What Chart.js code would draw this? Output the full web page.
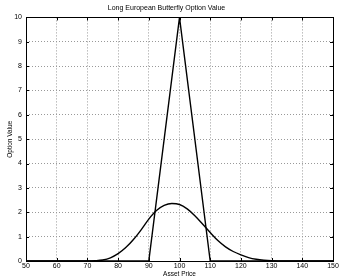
<!DOCTYPE html>
<html>
<head>
<meta charset="utf-8">
<script src="https://cdn.jsdelivr.net/npm/chart.js@4"></script>
<style>
  html, body { margin: 0; padding: 0; background: #fff; }
  #wrap { width: 340px; height: 278px; }
</style>
</head>
<body>
<div id="wrap"><canvas id="myChart" width="340" height="278"></canvas></div>
<script>
const priceGrid = [50, 55, 60, 65, 70, 72.5, 75, 77.5, 80, 82.5, 85, 87.5, 90, 92.5, 95, 97.5,
    100, 102.5, 105, 107.5, 110, 112.5, 115, 117.5, 120, 122.5, 125, 127.5, 130, 135, 140, 145, 150];
const optionValue = [0, 0, 0, 0, 0, 0.01, 0.04, 0.13, 0.3, 0.55, 0.88, 1.28, 1.72, 2.07, 2.28, 2.36,
    2.32, 2.14, 1.86, 1.52, 1.17, 0.84, 0.58, 0.39, 0.25, 0.14, 0.07, 0.03, 0.01, 0, 0, 0, 0];

// payoff at expiry
const payoffPrice = [50, 90, 100, 110, 150];
const payoffValue = [0, 0, 10, 0, 0];

const xTicks = [50, 60, 70, 80, 90, 100, 110, 120, 130, 140, 150];
const yTicks = [0, 1, 2, 3, 4, 5, 6, 7, 8, 9, 10];

const fontName = "'Liberation Sans', Arial, sans-serif";

let ctx = document.getElementById('myChart');

function toPoints(xs, ys) {
    return xs.map((x, i) => ({ x: x, y: ys[i] }));
}

// matlab style box with small inward ticks
const boxPlugin = {
    id: 'boxPlugin',
    afterDraw(chart) {
        const c = chart.ctx;
        const a = chart.chartArea;
        const xs = chart.scales.x;
        const ys = chart.scales.y;
        c.save();
        c.strokeStyle = '#000';
        c.lineWidth = 1;
        c.beginPath();
        xTicks.forEach(v => {
            const px = Math.round(xs.getPixelForValue(v)) + 0.5;
            c.moveTo(px, a.bottom); c.lineTo(px, a.bottom - 3);
            c.moveTo(px, a.top); c.lineTo(px, a.top + 3);
        });
        yTicks.forEach(v => {
            const py = Math.round(ys.getPixelForValue(v)) + 0.5;
            c.moveTo(a.left, py); c.lineTo(a.left + 3, py);
            c.moveTo(a.right, py); c.lineTo(a.right - 3, py);
        });
        c.stroke();
        c.strokeRect(Math.round(a.left) + 0.5, Math.round(a.top) + 0.5,
            Math.round(a.right - a.left), Math.round(a.bottom - a.top));
        c.restore();
    }
};

makeChart();

function makeChart() {
    const myChart = new Chart(ctx, {
        type: 'line',
        data: {
            datasets: [
                {
                    label: 'Payoff',
                    data: toPoints(payoffPrice, payoffValue),
                    borderColor: '#000',
                    borderWidth: 1.4,
                    pointRadius: 0,
                    tension: 0,
                    fill: false
                },
                {
                    label: 'Option Value',
                    data: toPoints(priceGrid, optionValue),
                    borderColor: '#000',
                    borderWidth: 1.4,
                    pointRadius: 0,
                    cubicInterpolationMode: 'monotone',
                    fill: false
                }
            ]
        },
        options: {
            responsive: false,
            animation: false,
            layout: { padding: { left: 0, right: 7, top: 0, bottom: 0 } },
            plugins: {
                legend: { display: false },
                tooltip: { enabled: false },
                title: {
                    display: true,
                    text: 'Long European Butterfly Option Value',
                    color: '#000',
                    font: { family: fontName, size: 7, weight: 'normal', lineHeight: 1.2 },
                    padding: { top: 4, bottom: 5 }
                }
            },
            scales: {
                x: {
                    type: 'linear',
                    min: 50,
                    max: 150,
                    afterBuildTicks: s => { s.ticks = xTicks.map(v => ({ value: v })); },
                    afterFit: s => { s.height = 17; },
                    grid: { color: '#999', drawTicks: false, lineWidth: 1 },
                    border: { display: false, dash: [1, 2] },
                    ticks: { color: '#000', font: { family: fontName, size: 7 }, padding: 1, maxRotation: 0 },
                    title: {
                        display: true, text: 'Asset Price', color: '#000',
                        font: { family: fontName, size: 6.5 }, padding: { top: 0, bottom: 0 }
                    }
                },
                y: {
                    min: 0,
                    max: 10,
                    afterBuildTicks: s => { s.ticks = yTicks.map(v => ({ value: v })); },
                    afterFit: s => { s.width = 26; },
                    grid: { color: '#999', drawTicks: false, lineWidth: 1 },
                    border: { display: false, dash: [1, 2] },
                    ticks: { color: '#000', font: { family: fontName, size: 7 }, padding: 4 },
                    title: {
                        display: true, text: 'Option Value', color: '#000',
                        font: { family: fontName, size: 6.5 }, padding: { top: 6, bottom: 0 }
                    }
                }
            }
        },
        plugins: [boxPlugin]
    });
}
</script>
</body>
</html>
